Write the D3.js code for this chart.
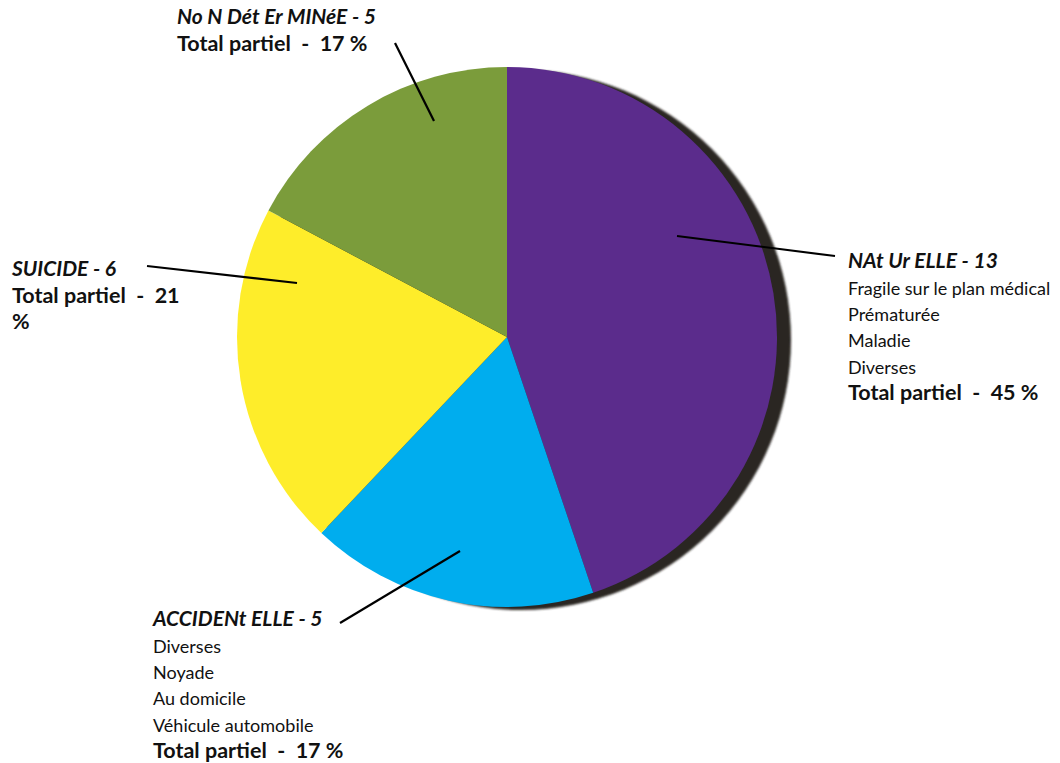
<!DOCTYPE html>
<html>
<head>
<meta charset="utf-8">
<script src="https://cdn.jsdelivr.net/npm/d3@7"></script>
<style>
  html, body { margin: 0; padding: 0; background: #fff; }
  svg { display: block; }
  text { font-family: Lato, "Open Sans", sans-serif; fill: #111; white-space: pre; }
  .head { font-weight: 700; font-style: italic; font-size: 21px; }
  .item { font-size: 18px; }
  .total { font-weight: 700; font-size: 21.5px; }
</style>
</head>
<body>
<svg id="chart" width="1060" height="763"></svg>
<script>
// Categories of death, counts, and the details listed under each label
const categories = ["NAt Ur ELLE", "ACCIDENt ELLE", "SUICIDE", "No N Dét Er MINéE"];
const counts = [13, 5, 6, 5];
const sliceColors = ["#5b2c8c", "#00adee", "#feed2a", "#7b9c3b"];
const details = [
  ["Fragile sur le plan médical", "Prématurée", "Maladie", "Diverses"],
  ["Diverses", "Noyade", "Au domicile", "Véhicule automobile"],
  [],
  []
];
const totalLabels = [["45 %"], ["17 %"], ["21", "%"], ["17 %"]];

// Label placement: text origin, leader start and leader end (pie-side)
const labelLayout = [
  { x: 848, y: 268, line: [[835, 256], [677, 236]] },
  { x: 153, y: 626, line: [[340, 623], [460, 551]] },
  { x: 12,  y: 276, line: [[147, 266], [297, 283]] },
  { x: 177, y: 24,  line: [[395, 43], [434, 121]] }
];

const svg = d3.select("#chart");
const cx = 507, cy = 337, R = 270;

const pie = d3.pie().sort(null).value(d => d)(counts);
const arc = d3.arc().innerRadius(0).outerRadius(R);

const defs = svg.append("defs");
defs.append("filter").attr("id", "soft")
  .append("feGaussianBlur").attr("stdDeviation", 1.2);

// dark rim behind the disc
svg.append("circle")
  .attr("cx", cx + 14).attr("cy", cy + 3).attr("r", R)
  .attr("fill", "#2a2623")
  .attr("filter", "url(#soft)");

const g = svg.append("g").attr("transform", `translate(${cx},${cy})`);
g.selectAll("path.slice")
  .data(pie)
  .join("path")
  .attr("class", "slice")
  .attr("d", arc)
  .attr("fill", (d, i) => sliceColors[i]);

// leader lines
svg.selectAll("line.leader")
  .data(labelLayout)
  .join("line")
  .attr("class", "leader")
  .attr("x1", d => d.line[0][0]).attr("y1", d => d.line[0][1])
  .attr("x2", d => d.line[1][0]).attr("y2", d => d.line[1][1])
  .attr("stroke", "#000").attr("stroke-width", 2.2);

// labels
categories.forEach((name, i) => {
  const L = labelLayout[i];
  const t = svg.append("text").attr("x", L.x).attr("y", L.y);
  t.append("tspan").attr("class", "head").attr("x", L.x).text(`${name} - ${counts[i]}`);
  details[i].forEach((line, k) => {
    t.append("tspan").attr("class", "item").attr("x", L.x).attr("dy", k === 0 ? 27 : 26.2).text(line);
  });
  totalLabels[i].forEach((p, k) => {
    t.append("tspan").attr("class", "total").attr("x", L.x).attr("dy", 26.5)
      .text(k === 0 ? "Total partiel  -  " + p : p);
  });
});
</script>
</body>
</html>
